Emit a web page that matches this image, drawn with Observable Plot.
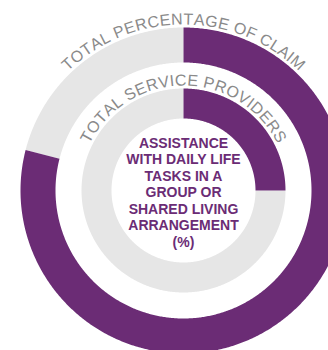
<!DOCTYPE html>
<html>
<head>
<meta charset="utf-8">
<script src="https://cdn.jsdelivr.net/npm/d3@7"></script>
<script src="https://cdn.jsdelivr.net/npm/@observablehq/plot@0.6"></script>
<style>
  html, body { margin: 0; padding: 0; background: #fff; }
  #chart svg { display: block; }
</style>
</head>
<body>
<div id="chart"></div>
<script>
// ---- data ----
const ringLabels = ["TOTAL PERCENTAGE OF CLAIM", "TOTAL SERVICE PROVIDERS"];
const sharePct = [79, 25];          // purple share of each ring (%)
const centerTitle = ["ASSISTANCE", "WITH DAILY LIFE", "TASKS IN A", "GROUP OR", "SHARED LIVING", "ARRANGEMENT", "(%)"];

// ---- styling / geometry ----
const purple = "#6b2c75", grey = "#e6e6e6", labelGrey = "#8a8a8a";
const rings = [
  {inner: 128, outer: 163, textR: 166},
  {inner: 72, outer: 102, textR: 105}
];
const labelFont = 16;
const spacing = 1.04;

function arcPoly(r0, r1, a0, a1, id) {
  const pts = [];
  const n = Math.max(2, Math.ceil(Math.abs(a1 - a0) / 0.5));
  for (let i = 0; i <= n; i++) {
    const a = (a0 + (a1 - a0) * i / n) * Math.PI / 180;
    pts.push({x: r1 * Math.sin(a), y: -r1 * Math.cos(a), id});
  }
  for (let i = n; i >= 0; i--) {
    const a = (a0 + (a1 - a0) * i / n) * Math.PI / 180;
    pts.push({x: r0 * Math.sin(a), y: -r0 * Math.cos(a), id});
  }
  return pts;
}

const marks = [];
rings.forEach((g, i) => {
  const end = sharePct[i] * 3.6;
  marks.push(Plot.line(arcPoly(g.inner, g.outer, end, 360, "g" + i), {x: "x", y: "y", fill: grey, stroke: "none", curve: "linear-closed"}));
  marks.push(Plot.line(arcPoly(g.inner, g.outer, 0, end, "p" + i), {x: "x", y: "y", fill: purple, stroke: "none", curve: "linear-closed"}));
});

// curved labels, one glyph at a time
const ctx = document.createElement("canvas").getContext("2d");
ctx.font = `${labelFont}px "Liberation Sans", Arial, sans-serif`;
const glyphs = [];
ringLabels.forEach((label, i) => {
  const R = rings[i].textR;
  const chars = [...label];
  const widths = chars.map(c => ctx.measureText(c).width * spacing);
  const total = d3.sum(widths);
  let s = -total / 2;
  chars.forEach((c, k) => {
    const a = (s + widths[k] / 2) / R;
    s += widths[k];
    glyphs.push({c, x: R * Math.sin(a), y: -R * Math.cos(a), rot: a * 180 / Math.PI});
  });
});
marks.push(Plot.text(glyphs, {
  x: "x", y: "y", text: "c", rotate: "rot",
  textAnchor: "middle", lineAnchor: "bottom",
  fill: labelGrey, fontSize: labelFont,
  fontFamily: '"Liberation Sans", Arial, sans-serif'
}));

marks.push(Plot.text([centerTitle.join("\n")], {
  x: () => 0, y: () => 1.5, text: d => d,
  textAnchor: "middle", lineAnchor: "middle", lineHeight: 1.18,
  fill: purple, fontSize: 14, fontWeight: "bold",
  fontFamily: '"Liberation Sans", Arial, sans-serif'
}));

const chart = Plot.plot({
  width: 328,
  height: 350,
  margin: 0,
  x: {domain: [-183, 145], range: [0, 328], axis: null},
  y: {domain: [-190, 160], range: [0, 350], axis: null},
  marks
});
document.getElementById("chart").appendChild(chart);
</script>
</body>
</html>
